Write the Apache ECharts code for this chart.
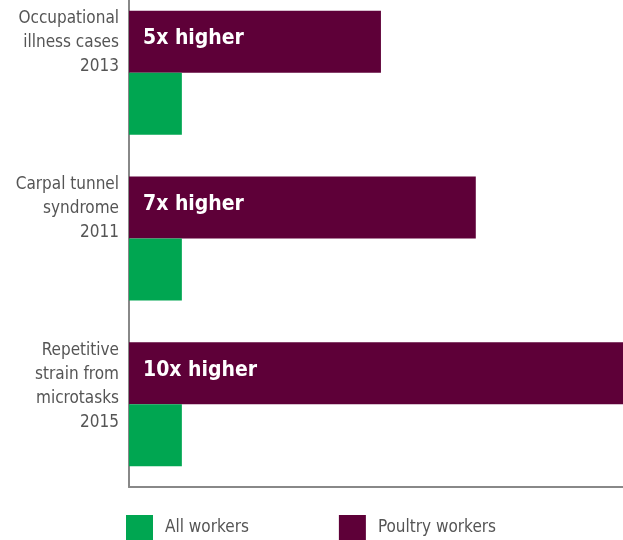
<!DOCTYPE html>
<html>
<head>
<meta charset="utf-8">
<script src="https://cdn.jsdelivr.net/npm/echarts@6/dist/echarts.min.js"></script>
<style>
html,body{margin:0;padding:0;background:#fff;}
#chart{width:623px;height:540px;}
</style>
</head>
<body>
<div id="chart"></div>
<script>
var categories = ['Occupational\nillness cases\n2013', 'Carpal tunnel\nsyndrome\n2011', 'Repetitive\nstrain from\nmicrotasks\n2015'];
var allWorkers = [1.07, 1.07, 1.07];
var poultryWorkers = [5.1, 7.02, 10];
var barLabels = ['5x higher', '7x higher', '10x higher'];
var seriesNames = ['All workers', 'Poultry workers'];

var FONT = "'DejaVu Sans Condensed', 'Liberation Sans Narrow', Roboto, sans-serif";
var chart = echarts.init(document.getElementById('chart'));
chart.setOption({
  animation: false,
  grid: {left: 129, right: 0, top: -10, bottom: 53, containLabel: false, outerBoundsMode: 'none'},
  legend: {
    data: seriesNames,
    left: 126, top: 515, padding: 0,
    icon: 'rect', itemWidth: 27, itemHeight: 25, itemGap: 90,
    textStyle: {fontFamily: FONT, fontSize: 17, color: '#555', padding: [0,0,0,7]}
  },
  xAxis: {
    type: 'value', min: 0, max: 10,
    axisLine: {show: true, lineStyle: {color: '#888', width: 2}},
    axisTick: {show: false}, axisLabel: {show: false}, splitLine: {show: false}
  },
  yAxis: {
    type: 'category', data: categories, inverse: true,
    axisLine: {show: true, lineStyle: {color: '#888', width: 2}},
    axisTick: {show: false}, axisLabel: {show: false}
  },
  series: [
    {
      name: seriesNames[1], type: 'bar', data: poultryWorkers, barWidth: 62, barGap: '0%',
      itemStyle: {color: '#5e0038'},
      label: {
        show: true, position: 'insideLeft', distance: 14, offset: [0, -3],
        formatter: function (p) { return barLabels[p.dataIndex]; },
        color: '#fff', fontFamily: FONT, fontWeight: 'bold', fontSize: 21
      }
    },
    {
      name: seriesNames[0], type: 'bar', data: allWorkers, barWidth: 62, barGap: '0%',
      itemStyle: {color: '#00a651'},
      label: {
        show: true, position: [-10, -66], align: 'right', verticalAlign: 'top',
        formatter: function (p) { return categories[p.dataIndex]; },
        color: '#555', fontFamily: FONT, fontSize: 17, lineHeight: 24
      }
    }
  ]
});
</script>
</body>
</html>
